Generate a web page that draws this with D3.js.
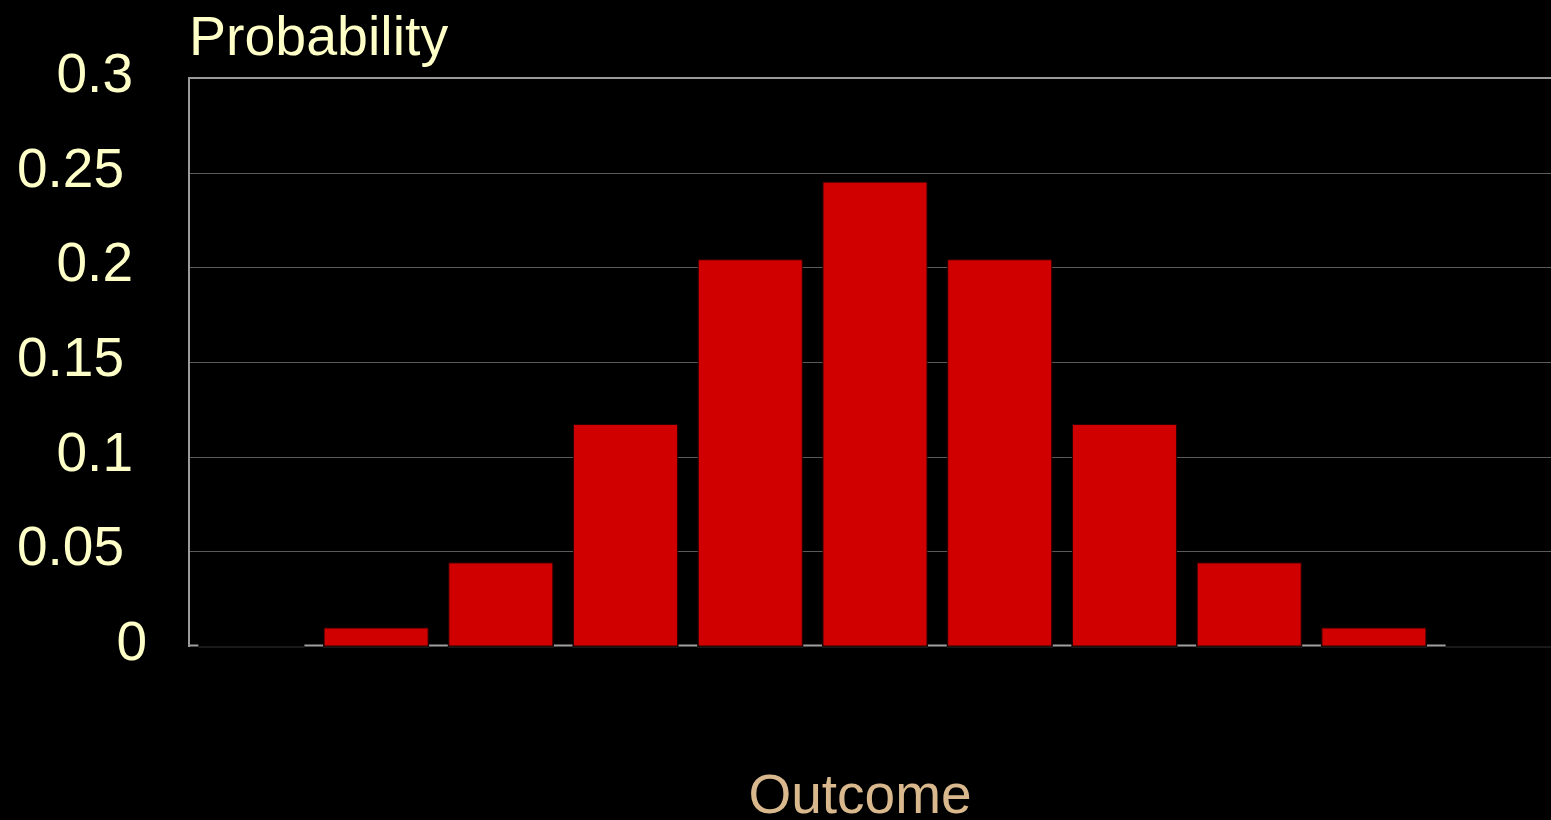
<!DOCTYPE html>
<html>
<head>
<meta charset="utf-8">
<script src="https://cdn.jsdelivr.net/npm/d3@7"></script>
<style>
  html, body { margin: 0; padding: 0; background: #000; overflow: hidden; }
  svg { display: block; font-family: "Liberation Sans", Arial, sans-serif; }
</style>
</head>
<body>
<svg id="chart"></svg>
<script>
// Outcome categories and their probabilities
const outcomes = ["0", "1", "2", "3", "4", "5", "6", "7", "8", "9", "10"];
const probabilities = [0, 0.0095, 0.0439, 0.117, 0.204, 0.245, 0.204, 0.117, 0.0439, 0.0095, 0];
const yTicks = [0, 0.05, 0.1, 0.15, 0.2, 0.25, 0.3];
const yTickLabels = ["0", "0.05", "0.1", "0.15", "0.2", "0.25", "0.3"];

const W = 1551, H = 820;
const margin = { top: 78, left: 189, bottom: 174 };
const plotRight = 1561;
const height = H - margin.top - margin.bottom;

const svg = d3.select("#chart").attr("width", W).attr("height", H);
svg.append("rect").attr("width", W).attr("height", H).attr("fill", "#000");

const chart = svg.append("g")
    .attr("transform", `translate(${margin.left}, ${margin.top})`);
const width = plotRight - margin.left;

const xScale = d3.scaleBand()
    .domain(outcomes)
    .range([0, width])
    .paddingInner(0.166)
    .paddingOuter(0.083);

const yScale = d3.scaleLinear()
    .domain([0, 0.3])
    .range([height, 0]);

// Grid lines
chart.selectAll(".grid")
    .data(yTicks.filter(d => d > 0 && d < 0.3))
    .join("line")
    .attr("class", "grid")
    .attr("x1", 0).attr("x2", width)
    .attr("y1", d => Math.round(yScale(d)) + 0.5)
    .attr("y2", d => Math.round(yScale(d)) + 0.5)
    .attr("stroke", "#5a5a5a")
    .attr("stroke-width", 1);

// Top frame line and left axis
chart.append("line")
    .attr("x1", 0).attr("x2", width)
    .attr("y1", yScale(0.3)).attr("y2", yScale(0.3))
    .attr("stroke", "#9a9a9a").attr("stroke-width", 2);

chart.append("line")
    .attr("x1", 0).attr("x2", 0)
    .attr("y1", yScale(0.3) - 1).attr("y2", yScale(0) + 1)
    .attr("stroke", "#9a9a9a").attr("stroke-width", 2);

// Baseline: light segments in the gaps, dark edge under each band
const bw = xScale.bandwidth();
const gaps = d3.range(outcomes.length + 1).map(i => [
    i === 0 ? 0 : xScale(outcomes[i - 1]) + bw,
    i === outcomes.length ? width : xScale(outcomes[i])
]);
chart.selectAll(".gap")
    .data(gaps)
    .join("line")
    .attr("class", "gap")
    .attr("x1", d => d[0] + 1).attr("x2", d => d[1] - 1)
    .attr("y1", yScale(0) - 0.5).attr("y2", yScale(0) - 0.5)
    .attr("stroke", "#a0a0a0").attr("stroke-width", 2);

chart.selectAll(".band-edge")
    .data(outcomes)
    .join("line")
    .attr("class", "band-edge")
    .attr("x1", d => xScale(d) - 1).attr("x2", d => xScale(d) + bw + 1)
    .attr("y1", yScale(0) + 1).attr("y2", yScale(0) + 1)
    .attr("stroke", "#333").attr("stroke-width", 1);

// Bars
chart.selectAll(".bar")
    .data(outcomes.map((d, i) => [d, probabilities[i]]).filter(d => d[1] > 0))
    .join("rect")
    .attr("class", "bar")
    .attr("x", d => xScale(d[0]))
    .attr("y", d => yScale(d[1]))
    .attr("width", bw)
    .attr("height", d => yScale(0) - yScale(d[1]))
    .attr("fill", "#d10000")
    .attr("stroke", "#2a0000")
    .attr("stroke-width", 1);

// Y tick labels
const labelRight = { 1: -42, 3: -56, 4: -65 };
chart.selectAll(".ylabel")
    .data(yTicks)
    .join("text")
    .attr("class", "ylabel")
    .attr("x", (d, i) => labelRight[yTickLabels[i].length])
    .attr("y", d => yScale(d) + 14)
    .attr("text-anchor", "end")
    .attr("font-size", 55)
    .attr("fill", "#ffffc8")
    .text((d, i) => yTickLabels[i]);

// Axis titles
svg.append("text")
    .attr("x", 189)
    .attr("y", 55)
    .attr("font-size", 55.5)
    .attr("fill", "#ffffc8")
    .text("Probability");

svg.append("text")
    .attr("x", 860)
    .attr("y", 813)
    .attr("text-anchor", "middle")
    .attr("font-size", 55)
    .attr("fill", "#d8b88c")
    .text("Outcome");
</script>
</body>
</html>
